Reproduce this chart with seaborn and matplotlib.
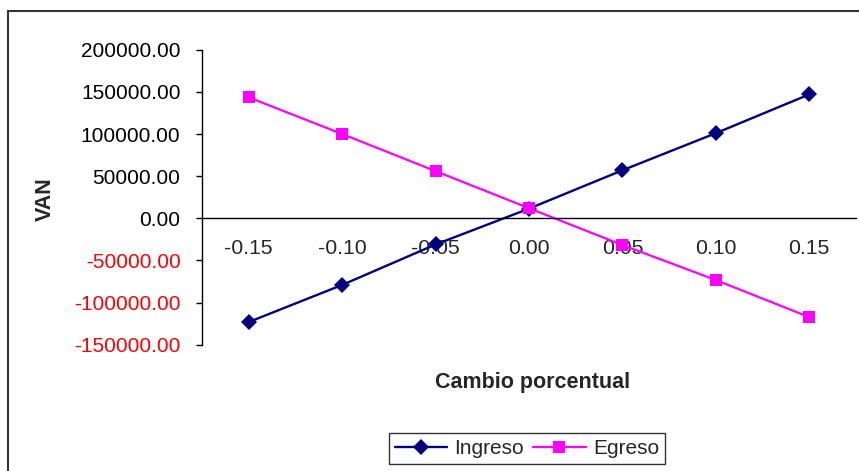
import matplotlib
matplotlib.use("Agg")
import matplotlib.pyplot as plt
import seaborn as sns
import pandas as pd
from matplotlib.patches import Rectangle

# ---- data ----
categories = ["-0.15", "-0.10", "-0.05", "0.00", "0.05", "0.10", "0.15"]
ingreso = [-123000, -79000, -31000, 11500, 57000, 101000, 147000]
egreso = [143500, 100000, 56000, 12000, -31700, -73200, -117200]
y_ticks = [-150000, -100000, -50000, 0, 50000, 100000, 150000, 200000]
y_labels = [f"{v:.2f}" for v in y_ticks]

sns.set_style("white")
plt.rcParams["font.family"] = ["Liberation Sans", "DejaVu Sans"]
plt.rcParams["axes.unicode_minus"] = False

df = pd.DataFrame({
    "cat": categories * 2,
    "VAN": ingreso + egreso,
    "serie": ["Ingreso"] * len(categories) + ["Egreso"] * len(categories),
})

fig = plt.figure(figsize=(8.59, 4.71), dpi=100)
L, R = 202 / 859, 856 / 859
B, T = 1 - 344.8 / 471, 1 - 49.7 / 471
ax = fig.add_axes([L, B, R - L, T - B])

sns.lineplot(data=df[df.serie == "Ingreso"], x="cat", y="VAN", ax=ax, color="#000080",
             marker="D", markersize=8, markeredgewidth=0, linewidth=1.7, sort=False,
             label="Ingreso")
sns.lineplot(data=df[df.serie == "Egreso"], x="cat", y="VAN", ax=ax, color="#FF00FF",
             marker="s", markersize=9, markeredgewidth=0, linewidth=1.6, sort=False,
             label="Egreso")

ax.set_xlim(-0.5, len(categories) - 0.5)
ax.set_ylim(-150000, 200000)
ax.set_yticks(y_ticks)
ax.set_yticklabels(y_labels)
for lab, v in zip(ax.get_yticklabels(), y_ticks):
    lab.set_color("#FF0000" if v < 0 else "black")

ax.set_xticks(range(len(categories)))
ax.set_xticklabels(categories)
ax.set_xticks([i - 0.5 for i in range(len(categories) + 1)], minor=True)
ax.tick_params(axis="x", which="major", length=0, pad=15, labelsize=15.3)
ax.tick_params(axis="x", which="minor", length=4, width=1, direction="out", color="black")
ax.tick_params(axis="y", length=4.5, width=1, direction="out", pad=11, labelsize=15, color="black", left=True)

ax.spines["top"].set_visible(False)
ax.spines["right"].set_visible(False)
ax.spines["bottom"].set_position(("data", 0))
for s in ("left", "bottom"):
    ax.spines[s].set_color("black")
    ax.spines[s].set_linewidth(1)

ax.set_xlabel("Cambio porcentual", fontsize=15.5, fontweight="bold")
ax.xaxis.set_label_coords(0.505, -0.093)
ax.set_ylabel("VAN", fontsize=15.5, fontweight="bold")
ax.yaxis.set_label_coords(-0.223, 0.494)

leg = ax.legend(loc="center", bbox_to_anchor=(527 / 859, 1 - 448.5 / 471),
                bbox_transform=fig.transFigure, ncol=2, fontsize=15, frameon=True,
                fancybox=False, shadow=False, handlelength=2.5, handletextpad=0.35,
                columnspacing=0.45, borderpad=0.3, borderaxespad=0)
leg.get_frame().set_edgecolor("black")
leg.get_frame().set_linewidth(1)

fig.patches.append(Rectangle((8 / 859, -0.05), 1.2, 1 - 11 / 471 + 0.05,
                             transform=fig.transFigure, fill=False,
                             edgecolor="#333333", linewidth=1.5, zorder=-1))

fig.savefig("out.png", dpi=100)
